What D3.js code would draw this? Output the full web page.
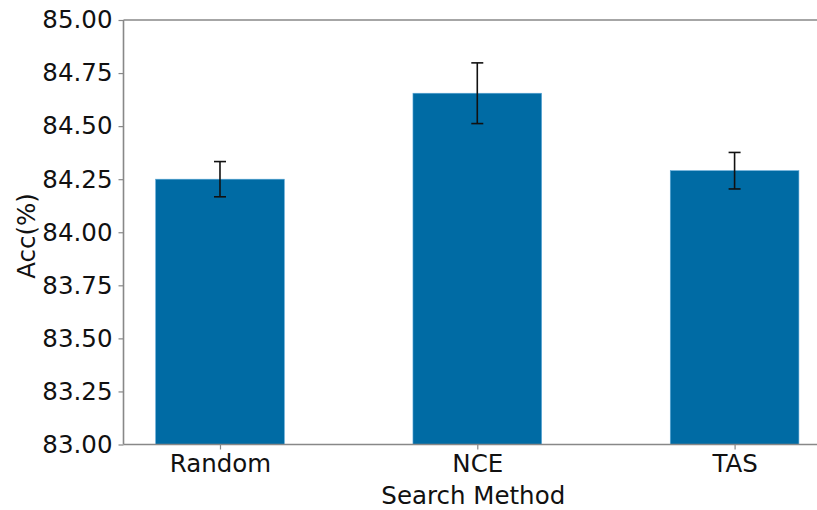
<!DOCTYPE html>
<html>
<head>
<meta charset="utf-8">
<script src="https://cdn.jsdelivr.net/npm/d3@7"></script>
<style>
  html, body { margin: 0; padding: 0; background: #fff; }
  svg { display: block; font-family: "DejaVu Sans", sans-serif; }
</style>
</head>
<body>
<svg id="chart" width="817" height="510"></svg>
<script>
// Mean accuracy per search method, with error half-widths
const methods = ["Random", "NCE", "TAS"];
const accuracy = [84.25, 84.655, 84.29];
const errors = [0.083, 0.143, 0.086];
const yTicks = [83.00, 83.25, 83.50, 83.75, 84.00, 84.25, 84.50, 84.75, 85.00];

(function draw() {
  const svg = d3.select("#chart");
  const plotLeft = 123.5, plotTop = 20, plotBottom = 444.5;
  const step = 257.3;
  const plotRight = plotLeft + 2.75 * step;
  const fontSize = 24.5;

  // Linear x over category index so the bars keep a 0.5 width with padding
  const x = d3.scaleLinear().domain([-0.375, 2.375]).range([plotLeft, plotRight]);
  const y = d3.scaleLinear().domain([83, 85]).range([plotBottom, plotTop]);
  const barW = x(0.5) - x(0);

  const axisColor = "#888";
  const barColor = "#006BA4";

  // Bars
  svg.append("g").selectAll("rect")
    .data(accuracy)
    .join("rect")
    .attr("x", (d, i) => x(i) - barW / 2)
    .attr("y", d => y(d))
    .attr("width", barW)
    .attr("height", d => y(83) - y(d))
    .attr("fill", barColor)
    .attr("stroke", "#5aa6d6")
    .attr("stroke-width", 0.6);

  // Error bars
  const eg = svg.append("g").attr("stroke", "#111").attr("stroke-width", 1.6);
  accuracy.forEach((d, i) => {
    const cx = x(i), hi = y(d + errors[i]), lo = y(d - errors[i]);
    eg.append("line").attr("x1", cx).attr("x2", cx).attr("y1", hi).attr("y2", lo);
    eg.append("line").attr("x1", cx - 6).attr("x2", cx + 6).attr("y1", hi).attr("y2", hi);
    eg.append("line").attr("x1", cx - 6).attr("x2", cx + 6).attr("y1", lo).attr("y2", lo);
  });

  // Y axis
  const yAxis = d3.axisLeft(y).tickValues(yTicks).tickFormat(d3.format(".2f")).tickSize(5).tickPadding(6);
  const gy = svg.append("g").attr("transform", `translate(${plotLeft},0)`).call(yAxis);
  gy.select(".domain").attr("stroke", axisColor).attr("stroke-width", 1.6).attr("d", `M0,${plotBottom}V${plotTop}`);
  gy.selectAll(".tick line").attr("stroke", axisColor).attr("stroke-width", 1.2);
  gy.selectAll(".tick text").attr("fill", "#111").attr("font-size", fontSize).attr("font-family", "DejaVu Sans");

  // X axis
  const xAxis = d3.axisBottom(x).tickValues([0, 1, 2]).tickFormat(i => methods[i]).tickSize(5).tickPadding(5);
  const gx = svg.append("g").attr("transform", `translate(0,${plotBottom})`).call(xAxis);
  gx.select(".domain").attr("stroke", axisColor).attr("stroke-width", 1.6).attr("d", `M${plotLeft},0H${plotRight}`);
  gx.selectAll(".tick line").attr("stroke", axisColor).attr("stroke-width", 1.2);
  gx.selectAll(".tick text").attr("fill", "#111").attr("font-size", fontSize).attr("font-family", "DejaVu Sans");

  // Top and right spines
  svg.append("line").attr("x1", plotLeft).attr("x2", plotRight).attr("y1", plotTop).attr("y2", plotTop)
    .attr("stroke", axisColor).attr("stroke-width", 1.6);
  svg.append("line").attr("x1", plotRight).attr("x2", plotRight).attr("y1", plotTop).attr("y2", plotBottom)
    .attr("stroke", axisColor).attr("stroke-width", 1.6);

  // Axis titles
  svg.append("text")
    .attr("x", (plotLeft + plotRight) / 2 - 4).attr("y", 504)
    .attr("text-anchor", "middle").attr("font-size", fontSize).attr("fill", "#111")
    .text("Search Method");
  svg.append("text")
    .attr("transform", `translate(35,236) rotate(-90)`)
    .attr("text-anchor", "middle").attr("font-size", fontSize).attr("fill", "#111")
    .text("Acc(%)");
})();
</script>
</body>
</html>
